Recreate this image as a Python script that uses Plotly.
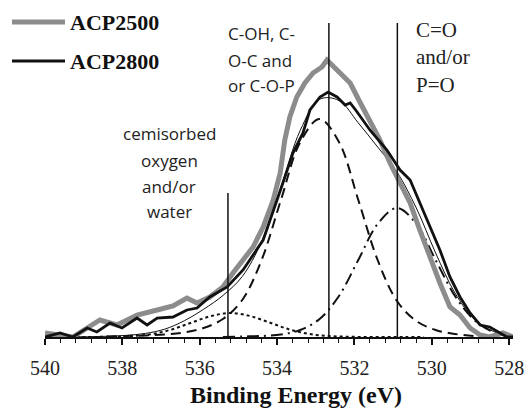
import plotly.graph_objects as go

# ---------------- data ----------------
# measured spectra
acp2500_E = [540.00, 539.61, 539.28, 538.91, 538.58, 538.14, 537.62, 537.10, 536.69, 536.33,
             536.07, 535.74, 535.40, 535.14, 534.88, 534.62, 534.36, 534.10, 533.92, 533.80,
             533.67, 533.49, 533.28, 533.07, 532.84, 532.71, 532.45, 532.11, 531.86, 531.60,
             531.34, 531.08, 530.82, 530.56, 530.31, 530.05, 529.79, 529.53, 529.27, 529.01,
             528.75, 528.50, 528.16, 527.90]
acp2500_I = [4, 2, 0, 9, 17, 12, 22, 27, 31, 39,
             34, 40, 50, 64, 77, 90, 110, 137, 164, 197,
             220, 240, 254, 264, 270, 277, 267, 254, 235, 217,
             197, 174, 154, 134, 107, 80, 54, 30, 22, 9,
             2, 0, 4, 0]

acp2800_E = [540.00, 539.61, 539.28, 538.91, 538.66, 538.32, 538.01, 537.62, 537.36, 537.10,
             536.69, 536.33, 536.07, 535.74, 535.29, 534.88, 534.36, 534.11, 533.85, 533.59,
             533.33, 533.15, 532.89, 532.68, 532.45, 532.24, 532.11, 531.93, 531.60, 531.16,
             530.82, 530.56, 530.31, 530.05, 529.79, 529.53, 529.27, 529.01, 528.75, 528.50,
             528.24, 528.06, 527.90]
acp2800_I = [0, 4, 0, 9, 5, 14, 9, 19, 12, 19,
             20, 27, 29, 40, 50, 67, 97, 124, 154, 184,
             204, 227, 240, 245, 240, 232, 234, 225, 207, 187,
             167, 157, 134, 112, 87, 60, 40, 24, 12, 10,
             4, 0, 0]

# fitted components
dashed_E = [538.4, 537.9, 537.4, 536.9, 536.4, 535.9, 535.4, 534.9, 534.4, 533.9, 533.4,
            532.9, 532.4, 531.9, 531.4, 530.9, 530.4, 529.9, 529.4, 528.9, 528.4]
dashed_I = [0.5, 1, 1.5, 2.5, 4.5, 9, 18, 37, 77, 137, 195,
            218, 195, 137, 77, 36, 16, 7, 3, 1, 0.5]

dashdot_E = [535.4, 534.9, 534.4, 533.9, 533.4, 532.9, 532.4, 531.9, 531.4, 530.9,
             530.4, 529.9, 529.4, 528.9, 528.4, 527.9]
dashdot_I = [0, 0.5, 1, 2.5, 7, 18, 41, 77, 113, 129,
             113, 77, 41, 17, 5, 1]

dotted_E = [539.2, 538.7, 538.2, 537.7, 537.2, 536.7, 536.2, 535.7, 535.2, 534.7,
            534.2, 533.7, 533.2, 532.7, 532.2, 531.7, 531.2, 530.7, 530.2]
dotted_I = [0, 0.1, 0.3, 1, 3.2, 7.8, 14.6, 21, 24, 21,
            14.6, 7.8, 3.2, 1, 0.3, 0, 0, 0, 0]

envelope_E = [539.9, 539.4, 538.9, 538.4, 537.9, 537.4, 536.9, 536.4, 535.9, 535.4,
              534.9, 534.4, 533.9, 533.4, 532.9, 532.4, 531.9, 531.4, 530.9, 530.4,
              529.9, 529.4, 528.9, 528.4, 527.9]
envelope_I = [0, 0.1, 0.3, 0.7, 1.6, 3.6, 7.9, 16.2, 27.7, 41.5,
              60.5, 95.4, 149.8, 206.7, 237.7, 236.5, 214.1, 190, 165, 129,
              84, 44, 18, 5.5, 1]

# peak-position markers
marker_E = [535.27, 532.66, 530.89]
marker_top = [144, 314, 314]

# labels
tick_values = [540, 538, 536, 534, 532, 530, 528]
series_names = ["ACP2500", "ACP2800"]
label_chem = ["cemisorbed", "oxygen", "and/or", "water"]
label_coh = ["C-OH, C-", "O-C and", "or C-O-P"]
label_co = ["C=O", "and/or", "P=O"]

# ---------------- figure ----------------
W, H = 531, 408
ML, MR, MT, MB = 45, 18, 0, 71
PW, PH = W - ML - MR, H - MT - MB
X0, X1 = 540.0, 527.9
Y0, Y1 = 0.0, 337.0

def px_to_E(px):
    return X0 + (px - ML) / PW * (X1 - X0)

def py_to_I(py):
    return Y1 - (py - MT) / PH * (Y1 - Y0)

GRAY = "#8c8c8c"
BLACK = "#111111"

fig = go.Figure()

fig.add_trace(go.Scatter(x=dotted_E, y=dotted_I, mode="lines", line_shape="spline",
                         line=dict(color=BLACK, width=2, dash="dot"), showlegend=False))
fig.add_trace(go.Scatter(x=dashdot_E, y=dashdot_I, mode="lines", line_shape="spline",
                         line=dict(color=BLACK, width=2, dash="12px,5px,2px,5px"), showlegend=False))
fig.add_trace(go.Scatter(x=dashed_E, y=dashed_I, mode="lines", line_shape="spline",
                         line=dict(color=BLACK, width=2, dash="10px,6px"), showlegend=False))
fig.add_trace(go.Scatter(x=envelope_E, y=envelope_I, mode="lines", line_shape="spline",
                         line=dict(color=BLACK, width=1), showlegend=False))
fig.add_trace(go.Scatter(x=acp2500_E, y=acp2500_I, mode="lines", name=series_names[0],
                         line=dict(color=GRAY, width=5), showlegend=False))
fig.add_trace(go.Scatter(x=acp2800_E, y=acp2800_I, mode="lines", name=series_names[1],
                         line=dict(color=BLACK, width=2.8), showlegend=False))

for e, top in zip(marker_E, marker_top):
    fig.add_trace(go.Scatter(x=[e, e], y=[0, top], mode="lines",
                             line=dict(color=BLACK, width=1.5), showlegend=False))

annotations = []
sans = dict(family="Open Sans", size=17, color="#222222")
serif = dict(family="Liberation Serif", size=21, color="#222222")

for txt, py in zip(label_chem, [133, 160, 186, 211]):
    annotations.append(dict(x=px_to_E(169), y=py_to_I(py), xref="x", yref="y", text=txt,
                            showarrow=False, xanchor="center", yanchor="middle", font=sans))
for txt, py in zip(label_coh, [33, 60, 85]):
    annotations.append(dict(x=px_to_E(226), y=py_to_I(py), xref="x", yref="y", text=txt,
                            showarrow=False, xanchor="left", yanchor="middle", font=sans))
for txt, py in zip(label_co, [30, 57, 85]):
    annotations.append(dict(x=px_to_E(414), y=py_to_I(py), xref="x", yref="y", text=txt,
                            showarrow=False, xanchor="left", yanchor="middle", font=serif))

# manual legend
legend_font = dict(family="Liberation Serif", size=22, color="#111111")
shapes = []
for name, col, wid, py in [(series_names[0], GRAY, 5, 22), (series_names[1], BLACK, 3, 61)]:
    shapes.append(dict(type="line", xref="paper", yref="paper",
                       x0=(12 - ML) / PW, x1=(65 - ML) / PW,
                       y0=1 - (py - MT) / PH, y1=1 - (py - MT) / PH,
                       line=dict(color=col, width=wid)))
    annotations.append(dict(x=(68 - ML) / PW, y=1 - (py - MT) / PH, xref="paper", yref="paper",
                            text="<b>" + name + "</b>", showarrow=False, xanchor="left",
                            yanchor="middle", font=legend_font))

# axis title
annotations.append(dict(x=(296 - ML) / PW, y=1 - (395 - MT) / PH, xref="paper", yref="paper",
                        text="<b>Binding Energy (eV)</b>", showarrow=False, xanchor="center",
                        yanchor="middle",
                        font=dict(family="Liberation Serif", size=24, color="#111111")))

fig.update_layout(
    width=W, height=H,
    margin=dict(l=ML, r=MR, t=MT, b=MB, pad=0),
    paper_bgcolor="white", plot_bgcolor="white",
    annotations=annotations, shapes=shapes,
    showlegend=False,
)
fig.update_xaxes(range=[X0, X1], showgrid=False, zeroline=False,
                 showline=True, linecolor=BLACK, linewidth=2,
                 ticks="outside", tickvals=tick_values, ticklen=6, tickwidth=1.5, tickcolor=BLACK,
                 ticklabelstandoff=6,
                 minor=dict(ticks="outside", dtick=0.4, tick0=540, ticklen=4, tickwidth=1.2,
                            tickcolor=BLACK, showgrid=False),
                 tickfont=dict(family="Liberation Serif", size=20, color="#222222"))
fig.update_yaxes(range=[Y0, Y1], visible=False, showgrid=False, zeroline=False)

fig.write_html("out.html")
